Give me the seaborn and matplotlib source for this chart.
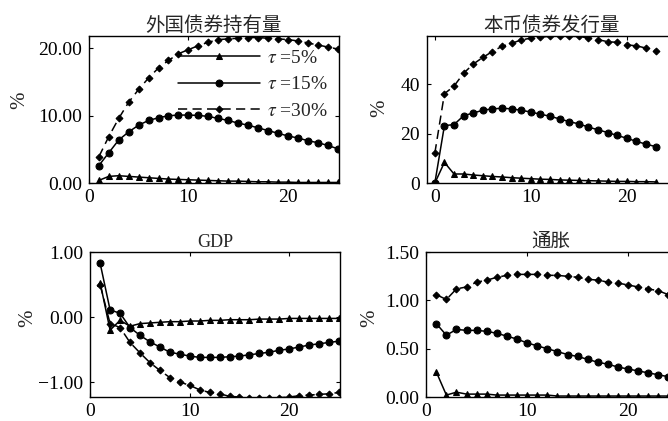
import matplotlib
matplotlib.use("Agg")
import matplotlib.pyplot as plt
import matplotlib.ticker as mticker
import seaborn as sns

# 外国债券持有量
t_hold = list(range(1, 26))
hold_5 = [0.4, 1.0, 1.1, 1.0, 0.9, 0.8, 0.7, 0.6, 0.55, 0.5, 0.45, 0.4, 0.35, 0.3,
          0.3, 0.25, 0.2, 0.2, 0.15, 0.15, 0.1, 0.1, 0.1, 0.1, 0.1]
hold_15 = [2.6, 4.5, 6.4, 7.6, 8.6, 9.3, 9.7, 10.0, 10.1, 10.1, 10.05, 9.9, 9.6, 9.3,
           8.9, 8.6, 8.2, 7.8, 7.4, 7.0, 6.7, 6.3, 6.0, 5.6, 5.1]
hold_30 = [3.9, 6.9, 9.6, 12.0, 13.9, 15.6, 17.1, 18.2, 19.2, 19.8, 20.4, 20.9, 21.3, 21.4,
           21.5, 21.6, 21.6, 21.5, 21.4, 21.3, 21.1, 20.8, 20.5, 20.2, 19.9]

# 本币债券发行量
t_issue = list(range(0, 24))
issue_5 = [0.0, 8.4, 3.7, 3.7, 3.3, 3.0, 2.7, 2.5, 2.2, 2.0, 1.8, 1.6, 1.5, 1.3,
           1.2, 1.1, 1.0, 0.9, 0.8, 0.7, 0.7, 0.6, 0.6, 0.5]
issue_15 = [0.0, 23.3, 23.7, 27.3, 28.4, 29.5, 30.1, 30.3, 30.1, 29.5, 28.8, 27.9, 27.1, 26.0,
            24.9, 24.0, 22.7, 21.6, 20.5, 19.3, 18.2, 16.9, 15.8, 14.8]
issue_30 = [12.1, 36.2, 39.3, 44.5, 48.2, 50.9, 53.3, 55.4, 56.6, 58.0, 58.7, 59.1, 59.5, 59.6,
            59.5, 59.4, 58.8, 58.1, 57.3, 57.0, 56.0, 55.6, 54.7, 53.6]

# GDP
t_gdp = list(range(1, 26))
gdp_5 = [0.53, -0.20, -0.05, -0.14, -0.10, -0.09, -0.08, -0.07, -0.07, -0.06, -0.06, -0.05, -0.05,
         -0.04, -0.04, -0.04, -0.03, -0.03, -0.03, -0.02, -0.02, -0.02, -0.02, -0.02, -0.02]
gdp_15 = [0.83, 0.11, 0.06, -0.16, -0.28, -0.38, -0.46, -0.54, -0.57, -0.60, -0.62, -0.62, -0.62,
          -0.61, -0.60, -0.58, -0.56, -0.54, -0.51, -0.49, -0.46, -0.43, -0.41, -0.39, -0.37]
gdp_30 = [0.50, -0.10, -0.16, -0.39, -0.55, -0.70, -0.82, -0.93, -1.00, -1.05, -1.12, -1.16, -1.18,
          -1.22, -1.23, -1.24, -1.25, -1.25, -1.24, -1.23, -1.21, -1.20, -1.19, -1.18, -1.16]

# 通胀
t_infl = list(range(1, 25))
infl_5 = [0.26, 0.02, 0.05, 0.03, 0.03, 0.03, 0.02, 0.02, 0.02, 0.02, 0.02, 0.02, 0.01, 0.01,
          0.01, 0.01, 0.01, 0.01, 0.01, 0.01, 0.01, 0.01, 0.01, 0.01]
infl_15 = [0.76, 0.64, 0.70, 0.69, 0.69, 0.68, 0.66, 0.63, 0.60, 0.56, 0.53, 0.50, 0.47, 0.44,
           0.42, 0.39, 0.36, 0.34, 0.31, 0.29, 0.27, 0.25, 0.23, 0.21]
infl_30 = [1.06, 1.01, 1.12, 1.14, 1.19, 1.21, 1.24, 1.26, 1.27, 1.27, 1.27, 1.26, 1.26, 1.25,
           1.24, 1.22, 1.21, 1.19, 1.18, 1.16, 1.14, 1.12, 1.10, 1.06]

labels = [r"$\tau$ =5%", r"$\tau$ =15%", r"$\tau$ =30%"]

sns.set_theme(style="ticks")
plt.rcParams["font.family"] = ["Liberation Serif", "Noto Sans CJK SC", "DejaVu Sans"]
plt.rcParams["mathtext.fontset"] = "stix"

fig = plt.figure(figsize=(6.68, 4.21), dpi=100)
ax_hold = fig.add_axes([0.133, 0.565, 0.374, 0.349])
ax_issue = fig.add_axes([0.639, 0.565, 0.374, 0.349])
ax_gdp = fig.add_axes([0.135, 0.057, 0.374, 0.344])
ax_infl = fig.add_axes([0.638, 0.057, 0.374, 0.344])

panels = [
    (ax_hold, "外国债券持有量", 14, t_hold, [hold_5, hold_15, hold_30], (0, 25.1), (0, 21.8),
     [0, 10, 20], "%.2f", (-0.24, 0.565)),
    (ax_issue, "本币债券发行量", 14, t_issue, [issue_5, issue_15, issue_30], (-0.83, 25.2), (0, 59.5),
     [0, 20, 40], "%d", (-0.152, 0.51)),
    (ax_gdp, "GDP", 13, t_gdp, [gdp_5, gdp_15, gdp_30], (0, 25.1), (-1.23, 1.0),
     [-1, 0, 1], "%.2f", (-0.212, 0.545)),
    (ax_infl, "通胀", 14, t_infl, [infl_5, infl_15, infl_30], (0, 24.75), (0, 1.5),
     [0, 0.5, 1.0, 1.5], "%.2f", (-0.188, 0.545)),
]
styles = [("^", "-", 5), ("o", "-", 5), ("D", (0, (6, 3.5)), 3.5)]


def make_fmt(fmt):
    return mticker.FuncFormatter(lambda v, p: (fmt % v).replace("-", "\u2212"))


for ax, title, tsize, t, series, xlim, ylim, yticks, fmt, lab_xy in panels:
    for vals, (mk, ls, ms), lab in zip(series, styles, labels):
        sns.lineplot(x=t, y=vals, ax=ax, color="black", marker=mk, linestyle=ls,
                     markersize=ms, markeredgecolor="black", linewidth=1.1, label=lab,
                     legend=False)
    ax.set_xlim(*xlim)
    ax.set_ylim(*ylim)
    ax.set_xticks([0, 10, 20])
    ax.set_yticks(yticks)
    ax.yaxis.set_major_formatter(make_fmt(fmt))
    ax.set_title(title, fontsize=tsize, pad=4)
    ax.set_ylabel("%", fontsize=15)
    ax.yaxis.set_label_coords(*lab_xy)
    ax.tick_params(direction="in", top=True, right=True, labelsize=14, length=3,
                   width=0.8, color="black", labelcolor="black")
    ax.tick_params(axis="y", pad=5)
    ax.tick_params(axis="x", pad=4)
    for sp in ax.spines.values():
        sp.set_linewidth(1.0)
        sp.set_color("black")

ax_hold.legend(loc="upper left", bbox_to_anchor=(0.31, 0.99), frameon=False, fontsize=14,
               handlelength=4.2, handletextpad=0.4, labelspacing=0.45, borderpad=0.1)

fig.savefig("out.png", dpi=100)
